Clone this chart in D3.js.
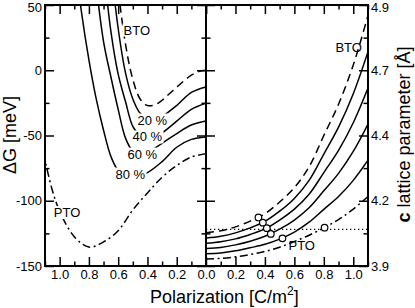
<!DOCTYPE html>
<html>
<head>
<meta charset="utf-8">
<script src="https://cdn.jsdelivr.net/npm/d3@7"></script>
<style>
  body { margin: 0; background: #fff; }
  text { font-family: "Liberation Sans", Arial, sans-serif; fill: #000; }
</style>
</head>
<body>
<svg id="chart" width="415" height="308"></svg>
<script>
// left panel: energy gain vs polarization (meV), one P list per curve
const btoP = [0, 0.05, 0.1, 0.15, 0.2, 0.25, 0.3, 0.35, 0.4, 0.45, 0.5, 0.55, 0.6, 0.63];
const btoG = [0, -1, -3.8, -8, -13, -18, -23, -26.5, -27, -22, -7, 20, 62, 95];
const g20P = [0, 0.1, 0.2, 0.3, 0.35, 0.4, 0.45, 0.5, 0.55, 0.6, 0.65];
const g20G = [-12.8, -17, -27, -35.5, -38, -37.5, -33, -22, -2, 32, 80];
const g40P = [0, 0.1, 0.2, 0.3, 0.35, 0.4, 0.45, 0.5, 0.55, 0.6, 0.65, 0.7];
const g40G = [-25.3, -30, -39, -48, -51, -52, -50, -43, -24, -3, 30, 80];
const g60P = [0, 0.1, 0.2, 0.3, 0.4, 0.45, 0.5, 0.55, 0.6, 0.65, 0.7, 0.75];
const g60G = [-38.9, -42, -48.5, -56, -63, -64.5, -62, -52, -30, -5, 22, 65];
const g80P = [0, 0.1, 0.2, 0.3, 0.4, 0.5, 0.55, 0.6, 0.65, 0.7, 0.75, 0.8, 0.85, 0.9];
const g80G = [-51.1, -53, -59, -70, -78.5, -82.5, -82, -77, -66, -46, -22, 8, 44, 90];
const ptoP = [0, 0.1, 0.2, 0.3, 0.4, 0.5, 0.6, 0.7, 0.8, 0.9, 1.0, 1.05, 1.1];
const ptoG = [-64, -66.5, -73, -82, -94, -107, -123, -131.5, -135.5, -127.5, -108, -92, -69];

// right panel: c lattice parameter (Angstrom) on a shared P grid
const latP = [0, 0.1, 0.2, 0.3, 0.4, 0.5, 0.6, 0.7, 0.8, 0.9, 1.0, 1.1];
const latBto = [4.027, 4.035, 4.05, 4.072, 4.10, 4.145, 4.2, 4.28, 4.40, 4.52, 4.67, 4.86];
const lat20 = [4.007, 4.014, 4.027, 4.046, 4.071, 4.110, 4.159, 4.228, 4.329, 4.432, 4.560, 4.721];
const lat40 = [3.987, 3.993, 4.004, 4.021, 4.042, 4.076, 4.118, 4.175, 4.258, 4.343, 4.449, 4.582];
const lat60 = [3.967, 3.971, 3.981, 3.995, 4.014, 4.041, 4.076, 4.123, 4.188, 4.255, 4.339, 4.444];
const lat80 = [3.947, 3.950, 3.958, 3.970, 3.983, 4.003, 4.030, 4.068, 4.117, 4.166, 4.228, 4.305];
const latPto = [3.927, 3.929, 3.935, 3.944, 3.956, 3.972, 3.994, 4.018, 4.046, 4.078, 4.118, 4.166];
const refLattice = 4.04;

// equilibrium points (BTO, 20, 40, 60, 80 %, PTO)
const circP = [0.356, 0.386, 0.413, 0.44, 0.519, 0.805];
const circC = [4.086, 4.066, 4.045, 4.023, 4.006, 4.047];

// ticks
const pMajor = [0, 0.2, 0.4, 0.6, 0.8, 1.0];
const pMinor = [0.1, 0.3, 0.5, 0.7, 0.9, 1.1];
const gMajor = [-150, -100, -50, 0, 50];
const gMinor = [-125, -75, -25, 25];
const cMajor = [3.9, 4.15, 4.4, 4.65, 4.9];
const cMinor = [4.025, 4.275, 4.525, 4.775];

// in-plot labels: [text, P, value]
const leftLabels = [["BTO", 0.473, 30.8], ["20 %", 0.367, -38.1], ["40 %", 0.401, -51.1],
  ["60 %", 0.435, -64.2], ["80 %", 0.517, -79.5], ["PTO", 0.949, -109]];
const rightLabels = [["BTO", 0.969, 4.739], ["PTO", 0.65, 3.98]];

const x0 = 45, xMid = 206, x1 = 368, yTop = 5, yBot = 266;
const majorLen = 9, minorLen = 4.5;

const svg = d3.select("#chart");
const xL = d3.scaleLinear().domain([1.1, 0]).range([x0, xMid]);
const xR = d3.scaleLinear().domain([0, 1.1]).range([xMid, x1]);
const yL = d3.scaleLinear().domain([-150, 50]).range([yBot, yTop]);
const yR = d3.scaleLinear().domain([3.9, 4.9]).range([yBot, yTop]);

const defs = svg.append("defs");
defs.append("clipPath").attr("id", "clipL").append("rect")
  .attr("x", x0).attr("y", yTop).attr("width", xMid - x0).attr("height", yBot - yTop);
defs.append("clipPath").attr("id", "clipR").append("rect")
  .attr("x", xMid).attr("y", yTop).attr("width", x1 - xMid).attr("height", yBot - yTop);

const styles = {
  bto: { dash: "8,5" },
  solid: { dash: null },
  pto: { dash: "8,3.5,2,3.5" },
};

const drawCurve = (g, line, pts, st) => {
  g.append("path")
    .attr("d", line(pts))
    .attr("fill", "none")
    .attr("stroke", "#000")
    .attr("stroke-width", 1.5)
    .attr("stroke-dasharray", st.dash);
};

const drawLeft = () => {
  const g = svg.append("g").attr("clip-path", "url(#clipL)");
  const line = d3.line().x((d) => xL(d[0])).y((d) => yL(d[1]))
    .curve(d3.curveCatmullRom.alpha(0.5));
  drawCurve(g, line, d3.zip(btoP, btoG), styles.bto);
  drawCurve(g, line, d3.zip(g20P, g20G), styles.solid);
  drawCurve(g, line, d3.zip(g40P, g40G), styles.solid);
  drawCurve(g, line, d3.zip(g60P, g60G), styles.solid);
  drawCurve(g, line, d3.zip(g80P, g80G), styles.solid);
  drawCurve(g, line, d3.zip(ptoP, ptoG), styles.pto);
};

const drawRight = () => {
  const g = svg.append("g").attr("clip-path", "url(#clipR)");
  const line = d3.line().x((d) => xR(d[0])).y((d) => yR(d[1]))
    .curve(d3.curveCatmullRom.alpha(0.5));
  g.append("line")
    .attr("x1", xR(0)).attr("x2", xR(1.1))
    .attr("y1", yR(refLattice)).attr("y2", yR(refLattice))
    .attr("stroke", "#000").attr("stroke-width", 1.3)
    .attr("stroke-dasharray", "1.3,2.7");
  drawCurve(g, line, d3.zip(latP, latBto), styles.bto);
  drawCurve(g, line, d3.zip(latP, lat20), styles.solid);
  drawCurve(g, line, d3.zip(latP, lat40), styles.solid);
  drawCurve(g, line, d3.zip(latP, lat60), styles.solid);
  drawCurve(g, line, d3.zip(latP, lat80), styles.solid);
  drawCurve(g, line, d3.zip(latP, latPto), styles.pto);
  g.selectAll("circle")
    .data(d3.zip(circP, circC))
    .enter()
    .append("circle")
    .attr("cx", (d) => xR(d[0]))
    .attr("cy", (d) => yR(d[1]))
    .attr("r", 3.3)
    .attr("fill", "#fff")
    .attr("stroke", "#000")
    .attr("stroke-width", 1.2);
};

const drawLabels = (labels, xs, ys, knockout) => {
  labels.forEach(([t, p, v]) => {
    const txt = svg.append("text")
      .attr("x", xs(p)).attr("y", ys(v)).attr("dy", "0.35em")
      .attr("text-anchor", "middle")
      .attr("font-size", 13)
      .text(t);
    if (knockout) {
      const b = txt.node().getBBox();
      svg.insert("rect", () => txt.node())
        .attr("x", b.x - 1).attr("y", b.y + 1)
        .attr("width", b.width + 2).attr("height", b.height - 2)
        .attr("fill", "#fff");
    }
  });
};

const addAxis = (axis, transform, labelled) => {
  const g = svg.append("g").attr("transform", transform)
    .call(axis.tickSizeOuter(0));
  g.select(".domain").remove();
  g.selectAll(".tick line").attr("stroke-width", 1.5);
  g.selectAll("text").attr("font-size", 13).attr("font-family", "Liberation Sans, Arial, sans-serif");
  if (!labelled) g.selectAll("text").remove();
  return g;
};

const fmt1 = (d) => d.toFixed(1);
const fmtInt = (d) => String(d);

// keep the top-most y label inside the picture
const nudgeTop = (g, top) => {
  g.selectAll(".tick").filter((d) => d === top).select("text").attr("dy", "0.5em");
};

const drawAxes = () => {
  // bottom
  addAxis(d3.axisBottom(xL).tickValues(pMajor.filter((d) => d > 0)).tickSize(-majorLen).tickPadding(4).tickFormat(fmt1), `translate(0,${yBot})`, true);
  addAxis(d3.axisBottom(xL).tickValues(pMinor).tickSize(-minorLen), `translate(0,${yBot})`, false);
  addAxis(d3.axisBottom(xR).tickValues(pMajor).tickSize(-majorLen).tickPadding(4).tickFormat(fmt1), `translate(0,${yBot})`, true);
  addAxis(d3.axisBottom(xR).tickValues(pMinor).tickSize(-minorLen), `translate(0,${yBot})`, false);
  // top
  addAxis(d3.axisTop(xL).tickValues(pMajor).tickSize(-majorLen), `translate(0,${yTop})`, false);
  addAxis(d3.axisTop(xL).tickValues(pMinor).tickSize(-minorLen), `translate(0,${yTop})`, false);
  addAxis(d3.axisTop(xR).tickValues(pMajor).tickSize(-majorLen), `translate(0,${yTop})`, false);
  addAxis(d3.axisTop(xR).tickValues(pMinor).tickSize(-minorLen), `translate(0,${yTop})`, false);
  // left panel y
  const gl = addAxis(d3.axisLeft(yL).tickValues(gMajor).tickSize(-majorLen).tickPadding(3).tickFormat(fmtInt), `translate(${x0},0)`, true);
  nudgeTop(gl, 50);
  addAxis(d3.axisLeft(yL).tickValues(gMinor).tickSize(-minorLen), `translate(${x0},0)`, false);
  addAxis(d3.axisRight(yL).tickValues(gMajor).tickSize(-majorLen), `translate(${xMid},0)`, false);
  addAxis(d3.axisRight(yL).tickValues(gMinor).tickSize(-minorLen), `translate(${xMid},0)`, false);
  // right panel y
  addAxis(d3.axisLeft(yR).tickValues(cMajor).tickSize(-majorLen), `translate(${xMid},0)`, false);
  addAxis(d3.axisLeft(yR).tickValues(cMinor).tickSize(-minorLen), `translate(${xMid},0)`, false);
  const gr = addAxis(d3.axisRight(yR).tickValues(cMajor).tickSize(-majorLen).tickPadding(3).tickFormat(fmt1), `translate(${x1},0)`, true);
  nudgeTop(gr, 4.9);
  addAxis(d3.axisRight(yR).tickValues(cMinor).tickSize(-minorLen), `translate(${x1},0)`, false);

  // frames
  [[x0, xMid], [xMid, x1]].forEach(([a, b]) => {
    svg.append("rect")
      .attr("x", a).attr("y", yTop).attr("width", b - a).attr("height", yBot - yTop)
      .attr("fill", "none").attr("stroke", "#000").attr("stroke-width", 2);
  });
};

const drawTitles = () => {
  const xt = svg.append("text")
    .attr("x", 150).attr("y", 302.5)
    .attr("font-size", 18);
  xt.append("tspan").text("Polarization [C/m");
  xt.append("tspan").attr("font-size", 12).attr("dy", -8).text("2");
  xt.append("tspan").attr("dy", 8).text("]");

  svg.append("text")
    .attr("transform", "translate(16,135) rotate(-90)")
    .attr("text-anchor", "middle")
    .attr("font-size", 18)
    .text("\u0394G [meV]");

  const yt = svg.append("text")
    .attr("transform", "translate(410,134.5) rotate(-90)")
    .attr("text-anchor", "middle")
    .attr("font-size", 18);
  yt.append("tspan").attr("font-weight", "bold").text("c");
  yt.append("tspan").text(" lattice parameter [\u00c5]");
};

drawLeft();
drawRight();
drawLabels(leftLabels, xL, yL, true);
drawLabels(rightLabels, xR, yR, false);
drawAxes();
drawTitles();
</script>
</body>
</html>
